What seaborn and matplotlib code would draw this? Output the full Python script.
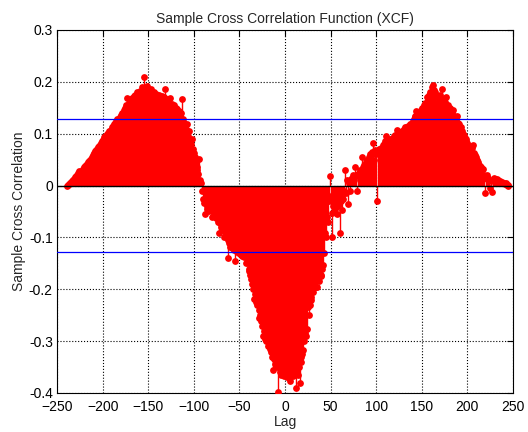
import numpy as np
import matplotlib
matplotlib.use("Agg")
import matplotlib.pyplot as plt
import seaborn as sns

# sample cross correlation values, lags -239 .. 245
lag_start, lag_stop = -239, 245
xcf = [
    0.000, 0.001, 0.003, 0.004, 0.006, 0.008, 0.010, 0.011, 0.013, 0.016,
    0.018, 0.021, 0.024, 0.029, 0.027, 0.025, 0.028, 0.030, 0.032, 0.035,
    0.037, 0.040, 0.042, 0.045, 0.047, 0.050, 0.052, 0.055, 0.058, 0.060,
    0.063, 0.066, 0.068, 0.071, 0.074, 0.077, 0.079, 0.082, 0.085, 0.088,
    0.090, 0.093, 0.096, 0.092, 0.099, 0.102, 0.105, 0.101, 0.108, 0.112,
    0.115, 0.108, 0.118, 0.121, 0.124, 0.129, 0.120, 0.127, 0.133, 0.137,
    0.140, 0.130, 0.146, 0.149, 0.140, 0.155, 0.168, 0.150, 0.160, 0.164,
    0.158, 0.168, 0.155, 0.172, 0.165, 0.175, 0.170, 0.180, 0.168, 0.178,
    0.182, 0.175, 0.190, 0.185, 0.210, 0.180, 0.188, 0.176, 0.192, 0.184,
    0.178, 0.170, 0.186, 0.175, 0.168, 0.180, 0.172, 0.166, 0.176, 0.170,
    0.165, 0.174, 0.168, 0.162, 0.172, 0.160, 0.170, 0.187, 0.164, 0.158,
    0.166, 0.155, 0.160, 0.168, 0.150, 0.158, 0.148, 0.155, 0.145, 0.150,
    0.142, 0.148, 0.138, 0.144, 0.135, 0.140, 0.166, 0.128, 0.120, 0.116,
    0.110, 0.118, 0.100, 0.095, 0.105, 0.087, 0.080, 0.090, 0.070, 0.062,
    0.055, 0.045, 0.035, 0.030, 0.022, 0.052, 0.010, 0.004, -0.010, -0.025,
    -0.033, -0.054, -0.030, -0.040, -0.045, -0.025, -0.050, -0.038, -0.042, -0.060,
    -0.048, -0.055, -0.045, -0.062, -0.058, -0.070, -0.065, -0.092, -0.072, -0.080,
    -0.075, -0.085, -0.100, -0.090, -0.100, -0.095, -0.139, -0.105, -0.110, -0.118,
    -0.112, -0.120, -0.115, -0.125, -0.146, -0.120, -0.128, -0.124, -0.130, -0.125,
    -0.132, -0.128, -0.135, -0.130, -0.138, -0.133, -0.150, -0.140, -0.150, -0.160,
    -0.165, -0.172, -0.180, -0.189, -0.200, -0.218, -0.210, -0.225, -0.230, -0.225,
    -0.240, -0.256, -0.250, -0.262, -0.270, -0.290, -0.280, -0.295, -0.300, -0.290,
    -0.310, -0.300, -0.315, -0.289, -0.320, -0.330, -0.356, -0.335, -0.345, -0.340,
    -0.350, -0.399, -0.345, -0.360, -0.350, -0.365, -0.360, -0.355, -0.368, -0.350,
    -0.362, -0.370, -0.360, -0.372, -0.376, -0.355, -0.365, -0.350, -0.368, -0.358,
    -0.360, -0.390, -0.355, -0.365, -0.350, -0.380, -0.340, -0.330, -0.325, -0.318,
    -0.300, -0.285, -0.290, -0.276, -0.235, -0.250, -0.230, -0.220, -0.215, -0.199,
    -0.205, -0.190, -0.185, -0.196, -0.195, -0.180, -0.185, -0.170, -0.175, -0.172,
    -0.160, -0.154, -0.130, -0.092, -0.100, -0.060, -0.070, -0.030, 0.019, -0.020,
    -0.100, -0.052, -0.040, -0.030, -0.045, -0.025, -0.054, -0.040, -0.035, -0.092,
    -0.030, -0.048, -0.020, -0.025, -0.010, 0.030, -0.015, 0.010, -0.035, 0.005,
    -0.010, 0.012, 0.008, 0.015, 0.020, 0.010, 0.035, 0.018, -0.010, 0.022,
    0.025, 0.030, 0.028, 0.056, 0.030, 0.035, 0.040, 0.038, 0.045, 0.050,
    0.042, 0.055, 0.060, 0.050, 0.065, 0.083, 0.062, 0.050, 0.068, 0.060,
    -0.029, 0.062, 0.070, 0.065, 0.072, 0.068, 0.078, 0.080, 0.075, 0.085,
    0.096, 0.082, 0.088, 0.080, 0.090, 0.086, 0.090, 0.092, 0.088, 0.095,
    0.098, 0.092, 0.108, 0.100, 0.096, 0.104, 0.100, 0.106, 0.102, 0.110,
    0.106, 0.112, 0.108, 0.112, 0.115, 0.110, 0.118, 0.116, 0.120, 0.125,
    0.128, 0.132, 0.135, 0.143, 0.130, 0.138, 0.135, 0.140, 0.145, 0.150,
    0.146, 0.155, 0.150, 0.160, 0.158, 0.170, 0.165, 0.175, 0.180, 0.178,
    0.190, 0.193, 0.185, 0.180, 0.175, 0.160, 0.172, 0.170, 0.165, 0.175,
    0.168, 0.187, 0.165, 0.160, 0.162, 0.155, 0.171, 0.150, 0.155, 0.148,
    0.150, 0.142, 0.140, 0.145, 0.135, 0.130, 0.128, 0.125, 0.135, 0.120,
    0.118, 0.110, 0.112, 0.106, 0.100, 0.098, 0.092, 0.090, 0.085, 0.082,
    0.078, 0.075, 0.070, 0.068, 0.072, 0.079, 0.062, 0.058, 0.055, 0.050,
    0.048, 0.045, 0.040, 0.038, 0.035, 0.032, 0.031, 0.020, -0.015, 0.018,
    0.020, 0.012, 0.015, 0.010, -0.005, 0.008, -0.013, 0.010, 0.015, 0.012,
    0.010, 0.013, 0.008, 0.010, 0.006, 0.008, 0.005, 0.006, 0.004, 0.005,
    0.003, 0.004, 0.002, 0.001, 0.000,
]
conf_bound = 0.129
x_ticks = [-250, -200, -150, -100, -50, 0, 50, 100, 150, 200, 250]
y_ticks = [-0.4, -0.3, -0.2, -0.1, 0, 0.1, 0.2, 0.3]

lags = np.arange(lag_start, lag_stop + 1)
xcf = np.array(xcf)
assert len(lags) == len(xcf)

sns.set_theme(style="white")
plt.rcParams['font.family'] = ['Liberation Sans', 'DejaVu Sans']

fig = plt.figure(figsize=(5.28, 4.32), dpi=100)
ax = fig.add_axes([0.108, 0.0903, 0.8636, 0.8403])

ax.vlines(lags, 0, xcf, color='red', linewidth=1.0, zorder=2)
sns.scatterplot(x=lags, y=xcf, color='red', s=24, edgecolor='red',
                linewidth=0, ax=ax, zorder=3)

ax.axhline(0, color='black', linewidth=1.0, zorder=4)
ax.axhline(conf_bound, color='#0000ff', linewidth=0.9, zorder=4)
ax.axhline(-conf_bound, color='#0000ff', linewidth=0.9, zorder=4)

ax.set_xlim(-250, 250)
ax.set_ylim(-0.4, 0.3)
ax.set_xticks(x_ticks)
ax.set_yticks(y_ticks)
ax.set_yticklabels(['-0.4', '-0.3', '-0.2', '-0.1', '0', '0.1', '0.2', '0.3'])
ax.grid(True, linestyle=':', color='black', linewidth=0.8)
ax.set_axisbelow(True)
ax.tick_params(direction='in', length=4, width=0.8, top=True, right=True,
               labelsize=10, colors='black')
ax.tick_params(axis='x', pad=5)
ax.tick_params(axis='y', pad=3)
for sp in ax.spines.values():
    sp.set_color('black')
    sp.set_linewidth(0.8)

ax.set_title('Sample Cross Correlation Function (XCF)', fontsize=10, pad=5)
ax.set_xlabel('Lag', fontsize=10, labelpad=1)
ax.set_ylabel('Sample Cross Correlation', fontsize=10, labelpad=2)

fig.savefig('out.png', dpi=100, facecolor='white')
